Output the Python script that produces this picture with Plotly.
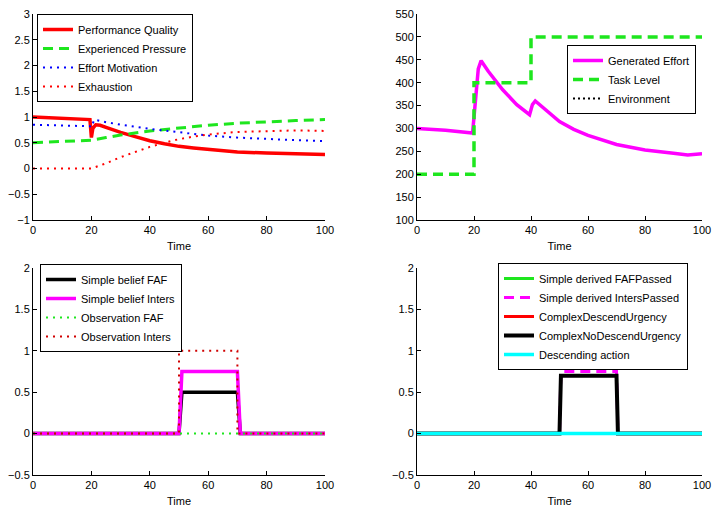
import plotly.graph_objects as go

# ---------------- data ----------------
# Top-left panel
t_pq = [0, 5, 10, 15, 19.5, 20, 20.5, 21.5, 23, 25, 30, 35, 40, 45, 50, 55, 60, 70, 80, 90, 100]
perf_quality = [1.0, 0.99, 0.97, 0.96, 0.95, 0.6, 0.78, 0.85, 0.84, 0.8, 0.7, 0.62, 0.54, 0.48, 0.43, 0.4, 0.37, 0.32, 0.3, 0.28, 0.27]
t_ep = [0, 10, 20, 25, 30, 40, 50, 60, 70, 80, 90, 100]
exp_pressure = [0.5, 0.52, 0.55, 0.6, 0.65, 0.73, 0.79, 0.84, 0.88, 0.91, 0.93, 0.95]
t_em = [0, 10, 19.5, 20, 21, 25, 30, 40, 50, 60, 70, 80, 90, 100]
effort_motivation = [0.85, 0.84, 0.82, 0.8, 0.95, 0.9, 0.85, 0.77, 0.7, 0.64, 0.6, 0.57, 0.55, 0.53]
t_ex = [0, 10, 20, 25, 30, 35, 40, 45, 50, 55, 60, 70, 80, 90, 100]
exhaustion = [0, 0, 0, 0.1, 0.22, 0.32, 0.42, 0.5, 0.57, 0.62, 0.66, 0.71, 0.73, 0.74, 0.73]

# Top-right panel
t_ge = [0, 10, 19.5, 20.5, 21.5, 22.5, 25, 30, 35, 39.5, 40.5, 41.5, 45, 50, 55, 60, 70, 80, 90, 95, 100]
generated_effort = [300, 296, 290, 360, 430, 448, 425, 385, 352, 330, 352, 360, 342, 315, 298, 285, 265, 253, 246, 242, 245]
t_task = [0, 20, 40, 100]
task_level = [200, 400, 500, 500]
t_env = [0, 100]
environment = [0, 0]

# Bottom-left panel
t_pulse = [0, 50, 51, 70, 71, 100]
belief_faf = [0, 0, 0.5, 0.5, 0, 0]
belief_inters = [0, 0, 0.75, 0.75, 0, 0]
t_obs = [0, 100]
obs_faf = [0, 0]
t_obs_i = [0, 50, 70, 100]
obs_inters = [0, 1, 0, 0]

# Bottom-right panel
t_flat = [0, 100]
derived_faf = [0, 0]
t_dp = [0, 50, 50.5, 70, 70.5, 100]
derived_inters = [0, 0, 0.75, 0.75, 0, 0]
complex_descend = [0, 0]
complex_nodescend = [0, 0, 0.7, 0.7, 0, 0]
descending_action = [0, 0]

FONT = "Liberation Sans, Arial, sans-serif"
GREEN = "#1ee61e"

fig = go.Figure()

def add(x, y, name, color, width, dash, xa, ya, leg, shape="linear"):
    fig.add_trace(go.Scatter(x=x, y=y, name=name, mode="lines",
                             line=dict(color=color, width=width, dash=dash, shape=shape),
                             xaxis=xa, yaxis=ya, legend=leg))

# top-left
add(t_pq, perf_quality, "Performance Quality", "#ff0000", 3.5, "solid", "x", "y", "legend")
add(t_ep, exp_pressure, "Experienced Pressure", GREEN, 3, "10px,6px", "x", "y", "legend")
add(t_em, effort_motivation, "Effort Motivation", "#0000ff", 2, "2px,5px", "x", "y", "legend")
add(t_ex, exhaustion, "Exhaustion", "#ff0000", 2, "2px,5px", "x", "y", "legend")

# top-right
add(t_ge, generated_effort, "Generated Effort", "#ff00ff", 3.5, "solid", "x2", "y2", "legend2")
add(t_task, task_level, "Task Level", GREEN, 3.5, "10px,6px", "x2", "y2", "legend2", shape="hv")
add(t_env, environment, "Environment", "#000000", 2, "2px,3px", "x2", "y2", "legend2")

# bottom-left
add(t_pulse, belief_faf, "Simple belief FAF", "#000000", 3.5, "solid", "x3", "y3", "legend3")
add(t_pulse, belief_inters, "Simple belief Inters", "#ff00ff", 3.5, "solid", "x3", "y3", "legend3")
add(t_obs, obs_faf, "Observation FAF", GREEN, 2, "2px,5px", "x3", "y3", "legend3")
add(t_obs_i, obs_inters, "Observation Inters", "#d00000", 2, "2px,5px", "x3", "y3", "legend3", shape="hv")

# bottom-right
add(t_flat, derived_faf, "Simple derived FAFPassed", GREEN, 3, "solid", "x4", "y4", "legend4")
add(t_dp, derived_inters, "Simple derived IntersPassed", "#ff00ff", 3, "10px,6px", "x4", "y4", "legend4")
add(t_flat, complex_descend, "ComplexDescendUrgency", "#ff0000", 3, "solid", "x4", "y4", "legend4")
add(t_dp, complex_nodescend, "ComplexNoDescendUrgency", "#000000", 4, "solid", "x4", "y4", "legend4")
add(t_flat, descending_action, "Descending action", "#00ffff", 3.5, "solid", "x4", "y4", "legend4")

W, H = 713, 508
def px(x): return x / W
def py(y): return 1 - y / H

xd_left = [px(33), px(325)]
xd_right = [px(417), px(702)]
yd_top = [py(220), py(14)]
yd_bot = [py(475), py(268)]

axis_common = dict(showline=True, linecolor="black", linewidth=1, ticks="inside", ticklen=4,
                   tickcolor="black", showgrid=False, zeroline=False, mirror=False,
                   automargin=False,
                   tickfont=dict(family=FONT, size=11, color="black"))

def xaxis(domain, anchor):
    return dict(domain=domain, anchor=anchor, range=[0, 100], tickvals=[0, 20, 40, 60, 80, 100],
                title=dict(text="Time", font=dict(family=FONT, size=11, color="black"), standoff=7),
                **axis_common)

def yaxis(domain, anchor, rng, step):
    return dict(domain=domain, anchor=anchor, range=rng, dtick=step, tick0=rng[0], **axis_common)

legend_common = dict(bgcolor="white", bordercolor="black", borderwidth=1,
                     font=dict(family=FONT, size=11, color="black"),
                     xanchor="left", yanchor="top", itemwidth=30, tracegroupgap=0)

fig.update_layout(
    width=W, height=H, margin=dict(l=0, r=0, t=0, b=0, autoexpand=False),
    paper_bgcolor="white", plot_bgcolor="white",
    xaxis=xaxis(xd_left, "y"), yaxis=yaxis(yd_top, "x", [-1, 3], 0.5),
    xaxis2=xaxis(xd_right, "y2"), yaxis2=yaxis(yd_top, "x2", [100, 550], 50),
    xaxis3=xaxis(xd_left, "y3"), yaxis3=yaxis(yd_bot, "x3", [-0.5, 2], 0.5),
    xaxis4=xaxis(xd_right, "y4"), yaxis4=yaxis(yd_bot, "x4", [-0.5, 2], 0.5),
    legend=dict(x=px(37), y=py(14), **legend_common),
    legend2=dict(x=px(567), y=py(45), **legend_common),
    legend3=dict(x=px(40), y=py(264), **legend_common),
    legend4=dict(x=px(498), y=py(263), **legend_common),
    showlegend=True,
)

fig.write_html("out.html", config={"displayModeBar": False},
               post_script="document.body.style.margin='0';document.body.style.overflow='hidden';")
